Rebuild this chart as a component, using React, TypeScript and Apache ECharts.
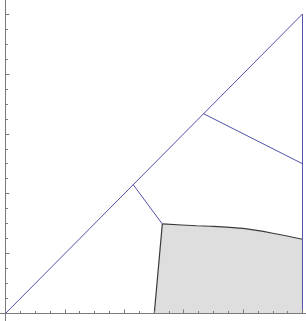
import React, { useEffect, useRef } from "react";
import * as echarts from "echarts";

// Data
const majorTicks = [0.2, 0.4, 0.6, 0.8, 1.0];
const minorTicks = [0.05, 0.1, 0.15, 0.25, 0.3, 0.35, 0.45, 0.5, 0.55, 0.65, 0.7, 0.75, 0.85, 0.9, 0.95];

const diagonalX = [0, 1];
const diagonalY = [0, 1];
const rightEdgeX = [1, 1];
const rightEdgeY = [0, 1];
const lowerSegX = [0.43, 0.528];
const lowerSegY = [0.43, 0.299];
const upperSegX = [0.667, 1];
const upperSegY = [0.667, 0.5];

// Shaded region: straight left edge and curved top edge
const leftEdgeX = [0.501, 0.528];
const leftEdgeY = [0, 0.299];
const topCurveX = [0.528, 0.644, 0.7, 0.8, 0.9, 1.0];
const topCurveY = [0.299, 0.293, 0.291, 0.284, 0.268, 0.248];
// closing corner of the region
const regionX = [leftEdgeX[0], ...topCurveX, 1.0];
const regionY = [leftEdgeY[0], ...topCurveY, 0];

const zip = (xs: number[], ys: number[]) => xs.map((x, i) => [x, ys[i]]);

const BLUE = "#5252a8";
const AXIS = "#7a7a7a";
const EDGE = "#3a3a3a";

export default function App() {
  const ref = useRef<HTMLDivElement>(null);
  useEffect(() => {
    if (!ref.current) return;
    const chart = echarts.init(ref.current, undefined, { renderer: "svg" });
    const labelStyle = {
      fontFamily: "Liberation Serif",
      fontSize: 10,
      color: "#555",
    };
    const xMin = -0.0185, xMax = 1.0118, yMin = -0.025, yMax = 1.0467;
    const baseAxis = (isX: boolean, major: boolean) => ({
      type: "value" as const,
      min: isX ? xMin : yMin,
      max: isX ? xMax : yMax,
      position: isX ? "bottom" : "left",
      z: 5,
      splitLine: { show: false },
      axisLine: {
        show: major,
        onZero: true,
        lineStyle: { color: AXIS, width: 1 },
      },
      axisTick: {
        show: true,
        inside: true,
        length: major ? 4 : 2.5,
        customValues: major ? majorTicks : minorTicks,
        lineStyle: { color: AXIS, width: 1 },
      },
      axisLabel: {
        show: major,
        customValues: majorTicks,
        margin: isX ? 1 : 3.5,
        formatter: (v: number) => v.toFixed(1),
        ...labelStyle,
      },
    });
    chart.setOption({
      animation: false,
      backgroundColor: "#ffffff",
      grid: {
        left: 0,
        right: 0,
        top: 0,
        bottom: 0,
        containLabel: false,
        outerBoundsMode: "none",
      },
      xAxis: [baseAxis(true, true), baseAxis(true, false)],
      yAxis: [baseAxis(false, true), baseAxis(false, false)],
      series: [
        {
          type: "custom",
          z: 1,
          data: [[regionX[0], regionY[0]]],
          encode: { x: 0, y: 1 },
          renderItem: (_p: any, api: any) => ({
            type: "polygon",
            smooth: 0,
            shape: { points: regionX.map((x, i) => api.coord([x, regionY[i]])) },
            style: { fill: "#dedede", stroke: "none" },
          }),
        },
        {
          type: "line",
          z: 3,
          data: zip(leftEdgeX, leftEdgeY),
          symbol: "none",
          lineStyle: { color: EDGE, width: 1.2 },
        },
        {
          type: "line",
          z: 3,
          data: zip(topCurveX, topCurveY),
          symbol: "none",
          smooth: 0.3,
          lineStyle: { color: EDGE, width: 1.2 },
        },
        ...[
          [diagonalX, diagonalY],
          [rightEdgeX, rightEdgeY],
          [lowerSegX, lowerSegY],
          [upperSegX, upperSegY],
        ].map(([xs, ys]) => ({
          type: "line",
          z: 4,
          data: zip(xs, ys),
          symbol: "none",
          lineStyle: { color: BLUE, width: 1 },
        })),
      ],
    });
    return () => chart.dispose();
  }, []);
  return (
    <div
      ref={ref}
      style={{ position: "fixed", left: 0, top: 0, width: 306, height: 321 }}
    />
  );
}
